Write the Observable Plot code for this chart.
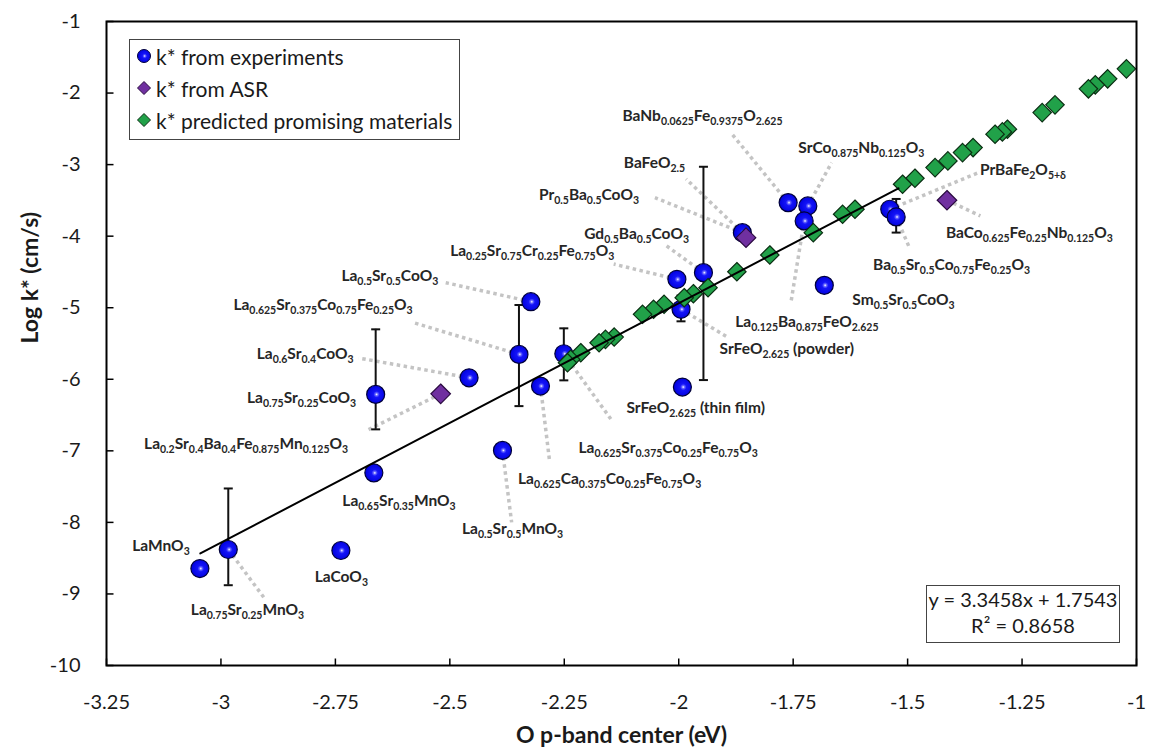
<!DOCTYPE html>
<html><head><meta charset="utf-8">
<script src="https://cdn.jsdelivr.net/npm/d3@7"></script>
<script src="https://cdn.jsdelivr.net/npm/@observablehq/plot@0.6"></script>
<style>
body{margin:0;background:#fff;font-family:Lato,"Open Sans",sans-serif;}
#wrap{position:relative;width:1150px;height:755px;overflow:hidden;}
#legend{position:absolute;left:129px;top:39px;width:329px;height:99px;border:1.5px solid #444;background:#fff;font-size:21px;color:#1a1a1a;}
#legend .row{position:absolute;left:6px;height:26px;display:flex;align-items:center;white-space:nowrap;}
#legend svg{margin-right:4px;}
#eq{position:absolute;left:926px;top:585px;width:192px;height:56px;border:1.5px solid #444;background:#fff;font-size:20px;color:#1a1a1a;text-align:center;line-height:26px;}
</style></head><body><div id="wrap"></div>
<script>
// ---------- data ----------
const xTicks = [-3.25,-3,-2.75,-2.5,-2.25,-2,-1.75,-1.5,-1.25,-1];
const yTicks = [-10,-9,-8,-7,-6,-5,-4,-3,-2,-1];

// k* from experiments (O p-band center, log k*)
const expX = [-3.046,-2.984,-2.738,-2.666,-2.662,-2.458,-2.385,-2.349,-2.323,-2.302,-2.251,-2.004,-1.995,-1.992,-1.946,-1.861,-1.761,-1.718,-1.726,-1.682,-1.539,-1.525];
const expY = [-8.645,-8.379,-8.393,-7.308,-6.211,-5.979,-6.994,-5.652,-4.916,-6.095,-5.643,-4.603,-5.022,-6.109,-4.510,-3.951,-3.531,-3.578,-3.787,-4.687,-3.624,-3.731];

// error bars
const errX = [-2.984,-2.662,-2.349,-2.251,-1.995,-1.946,-1.525];
const errLo = [-8.878,-6.70,-6.375,-6.015,-5.19,-6.011,-3.95];
const errHi = [-7.526,-5.302,-4.962,-5.288,-4.83,-3.03,-3.48];

// k* from ASR
const asrX = [-2.520,-1.853,-1.414];
const asrY = [-6.203,-4.021,-3.498];

// k* predicted promising materials
const predX = [-1.022,-1.063,-1.090,-1.105,-1.178,-1.206,-1.282,-1.293,-1.309,-1.357,-1.380,-1.412,-1.440,-1.484,-1.511,-1.615,-1.642,-1.706,-1.801,-1.873,-1.936,-1.968,-1.988,-2.032,-2.055,-2.079,-2.141,-2.160,-2.174,-2.214,-2.236,-2.243];
const predY = [-1.662,-1.801,-1.885,-1.941,-2.165,-2.273,-2.505,-2.543,-2.575,-2.762,-2.832,-2.948,-3.042,-3.190,-3.274,-3.624,-3.694,-3.951,-4.263,-4.497,-4.720,-4.804,-4.860,-4.952,-5.022,-5.092,-5.410,-5.442,-5.490,-5.629,-5.722,-5.769];

// linear fit shown on chart
const fitSlope = 3.3458, fitIntercept = 1.7543, fitR2 = 0.8658;
const fitRange = [-3.045, -1.52];

// material labels (markup: _{..} = subscript) and their positions
const labNames = ["LaMnO_{3}","La_{0.75}Sr_{0.25}MnO_{3}","LaCoO_{3}","La_{0.65}Sr_{0.35}MnO_{3}","La_{0.5}Sr_{0.5}MnO_{3}",
 "La_{0.2}Sr_{0.4}Ba_{0.4}Fe_{0.875}Mn_{0.125}O_{3}","La_{0.625}Ca_{0.375}Co_{0.25}Fe_{0.75}O_{3}","La_{0.625}Sr_{0.375}Co_{0.25}Fe_{0.75}O_{3}",
 "SrFeO_{2.625} (thin film)","SrFeO_{2.625} (powder)","La_{0.125}Ba_{0.875}FeO_{2.625}","Sm_{0.5}Sr_{0.5}CoO_{3}","Ba_{0.5}Sr_{0.5}Co_{0.75}Fe_{0.25}O_{3}",
 "BaCo_{0.625}Fe_{0.25}Nb_{0.125}O_{3}","PrBaFe_{2}O_{5+δ}","SrCo_{0.875}Nb_{0.125}O_{3}","BaNb_{0.0625}Fe_{0.9375}O_{2.625}","BaFeO_{2.5}",
 "Pr_{0.5}Ba_{0.5}CoO_{3}","Gd_{0.5}Ba_{0.5}CoO_{3}","La_{0.25}Sr_{0.75}Cr_{0.25}Fe_{0.75}O_{3}","La_{0.5}Sr_{0.5}CoO_{3}",
 "La_{0.625}Sr_{0.375}Co_{0.75}Fe_{0.25}O_{3}","La_{0.6}Sr_{0.4}CoO_{3}","La_{0.75}Sr_{0.25}CoO_{3}"];
const labX = [-3.131,-2.942,-2.737,-2.611,-2.363,-2.945,-2.151,-2.023,-1.963,-1.764,-1.720,-1.509,-1.404,-1.234,-1.248,-1.601,-1.948,-2.053,-2.196,-2.092,-2.320,-2.631,-2.777,-2.816,-2.824];
const labY = [-8.333,-9.218,-8.767,-7.704,-8.099,-6.907,-7.397,-6.958,-6.399,-5.582,-5.196,-4.897,-4.407,-3.951,-3.078,-2.762,-2.319,-2.972,-3.424,-3.969,-4.207,-4.557,-4.962,-5.643,-6.267];

// dotted leader lines (from point to label)
const leadX1 = [-2.984,-2.385,-2.302,-2.251,-1.995,-1.726,-1.761,-1.718,-1.861,-1.861,-1.946,-2.004,-2.323,-2.349,-2.458,-2.520,-1.539,-1.414,-1.525];
const leadY1 = [-8.379,-6.994,-6.095,-5.643,-5.022,-3.787,-3.531,-3.578,-3.951,-3.951,-4.510,-4.603,-4.916,-5.652,-5.979,-6.203,-3.624,-3.498,-3.731];
const leadX2 = [-2.905,-2.365,-2.282,-2.145,-1.891,-1.755,-1.884,-1.666,-1.984,-2.052,-2.030,-2.142,-2.509,-2.579,-2.699,-2.684,-1.345,-1.341,-1.496];
const leadY2 = [-9.06,-8.0,-7.15,-6.585,-5.42,-4.93,-2.571,-2.972,-3.20,-3.462,-4.12,-4.39,-4.65,-5.21,-5.703,-6.724,-3.112,-3.717,-4.161];

const legendLabels = ["k* from experiments","k* from ASR","k* predicted promising materials"];
const xTitle = "O p-band center (eV)";
const yTitle = "Log k* (cm/s)";

// ---------- build ----------
const idx = n => d3.range(n);
const tickUp = {draw(c){c.moveTo(0,0);c.lineTo(0,-7);}};
const tickRight = {draw(c){c.moveTo(0,0);c.lineTo(7,0);}};
const capSym = {draw(c){c.moveTo(-4.5,0);c.lineTo(4.5,0);}};

const chart = Plot.plot({
  width:1150, height:755,
  marginLeft:106, marginRight:14, marginTop:21, marginBottom:90,
  x:{domain:[-3.25,-1]},
  y:{domain:[-10,-1]},
  style:{fontFamily:"Lato, 'Open Sans', sans-serif", background:"#fff", color:"#1a1a1a"},
  marks:[
    Plot.axisX({ticks:xTicks, tickSize:0, tickPadding:29, fontSize:20, tickFormat:d=>String(d), label:null}),
    Plot.axisY({ticks:yTicks, tickSize:0, tickPadding:26, fontSize:20, tickFormat:d=>String(d), label:null}),
    Plot.dot(xTicks, {x:d=>d, frameAnchor:"bottom", symbol:tickUp, stroke:"#000", strokeWidth:1.5, fill:"none"}),
    Plot.dot(yTicks, {y:d=>d, frameAnchor:"left", symbol:tickRight, stroke:"#000", strokeWidth:1.5, fill:"none"}),
    Plot.text([xTitle], {frameAnchor:"bottom", dy:77, fontSize:23, fontWeight:"bold", fill:"#1a1a1a"}),
    Plot.text([yTitle], {frameAnchor:"left", dx:-76, rotate:-90, fontSize:23, fontWeight:"bold", fill:"#1a1a1a"}),
    Plot.link(idx(leadX1.length), {x1:i=>leadX1[i], y1:i=>leadY1[i], x2:i=>leadX2[i], y2:i=>leadY2[i], stroke:"#c4c4c4", strokeWidth:3.5, strokeDasharray:"3.5 3.5"}),
    Plot.ruleX(idx(errX.length), {x:i=>errX[i], y1:i=>errLo[i], y2:i=>errHi[i], stroke:"#111", strokeWidth:2}),
    Plot.dot(idx(errX.length), {x:i=>errX[i], y:i=>errLo[i], symbol:capSym, stroke:"#111", strokeWidth:2, fill:"none"}),
    Plot.dot(idx(errX.length), {x:i=>errX[i], y:i=>errHi[i], symbol:capSym, stroke:"#111", strokeWidth:2, fill:"none"}),
    Plot.dot(idx(expX.length), {x:i=>expX[i], y:i=>expY[i], r:9, fill:"url(#blueBall)", stroke:"#00003a", strokeWidth:1.2}),
    Plot.dot(idx(asrX.length), {x:i=>asrX[i], y:i=>asrY[i], r:8.8, symbol:"diamond2", fill:"#7030a0", stroke:"#2a0a40", strokeWidth:1.2}),
    Plot.dot(idx(predX.length), {x:i=>predX[i], y:i=>predY[i], r:8.3, symbol:"diamond2", fill:"#21a149", stroke:"#0a2e12", strokeWidth:1.2}),
    Plot.line(fitRange, {x:d=>d, y:d=>fitSlope*d+fitIntercept, stroke:"#000", strokeWidth:2}),
    Plot.text(idx(labNames.length), {x:i=>labX[i], y:i=>labY[i], text:i=>labNames[i], fontSize:15.5, fontWeight:"bold", fill:"#262626", textAnchor:"middle"}),
    Plot.frame({stroke:"#000", strokeWidth:2})
  ]
});

// gradient for the blue balls
const ns = "http://www.w3.org/2000/svg";
const defs = document.createElementNS(ns,"defs");
defs.innerHTML = '<radialGradient id="blueBall" cx="0.55" cy="0.5" r="0.55"><stop offset="0" stop-color="#ffffff"/><stop offset="0.14" stop-color="#6a6aff"/><stop offset="0.32" stop-color="#1414f8"/><stop offset="1" stop-color="#0000dc"/></radialGradient>';
chart.insertBefore(defs, chart.firstChild);

// subscripts: rebuild every label that carries _{..} markup as tspans
chart.querySelectorAll('text').forEach(t=>{
  const s = t.textContent;
  if (s.indexOf("_{") < 0) return;
  while (t.firstChild) t.removeChild(t.firstChild);
  const parts = s.split(/(_\{[^}]*\})/);
  let sub = false;
  parts.forEach(p=>{
    if(!p) return;
    const ts = document.createElementNS(ns,"tspan");
    if(p.startsWith("_{")){ ts.textContent = p.slice(2,-1); ts.setAttribute("font-size","10.5"); ts.setAttribute("dy", sub?"0":"4"); sub = true; }
    else { ts.textContent = p; ts.setAttribute("dy", sub?"-4":"0"); sub = false; }
    t.appendChild(ts);
  });
});

const wrap = document.getElementById("wrap");
wrap.appendChild(chart);

// legend
const sym = [
 '<svg width="16" height="16"><circle cx="8" cy="8" r="6.5" fill="url(#blueBall)" stroke="#00003a" stroke-width="1"/></svg>',
 '<svg width="16" height="16"><path d="M8,1.5L14.5,8L8,14.5L1.5,8Z" fill="#7030a0" stroke="#2a0a40" stroke-width="1"/></svg>',
 '<svg width="16" height="16"><path d="M8,1.5L14.5,8L8,14.5L1.5,8Z" fill="#21a149" stroke="#0a2e12" stroke-width="1"/></svg>'
];
const leg = document.createElement("div"); leg.id = "legend";
legendLabels.forEach((l,i)=>{
  const r = document.createElement("div"); r.className = "row";
  r.style.top = (3 + i*32) + "px";
  r.innerHTML = sym[i] + '<span>' + l + '</span>';
  leg.appendChild(r);
});
wrap.appendChild(leg);

// equation box
const eq = document.createElement("div"); eq.id = "eq";
eq.innerHTML = `y = ${fitSlope}x + ${fitIntercept}<br>R² = ${fitR2}`;
wrap.appendChild(eq);
</script>
</body></html>
